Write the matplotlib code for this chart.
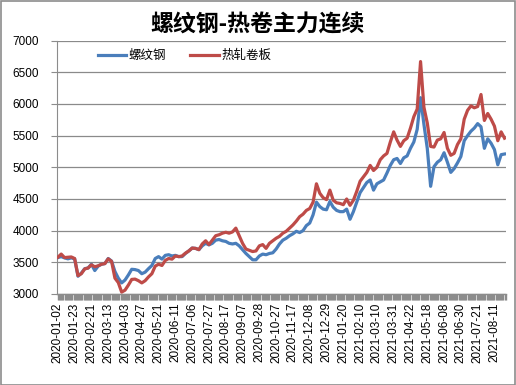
import numpy as np
import pandas as pd
import matplotlib
matplotlib.use("Agg")
import matplotlib.pyplot as plt
from matplotlib.patches import Rectangle

plt.rcParams['font.family'] = ['Liberation Sans', 'Noto Sans CJK SC', 'DejaVu Sans']

# ---- data ----
title = "螺纹钢-热卷主力连续"
series_names = ["螺纹钢", "热轧卷板"]
start_date, end_date = "2020-01-02", "2021-08-25"
holidays = [
    "2020-01-24", "2020-01-27", "2020-01-28", "2020-01-29", "2020-01-30", "2020-01-31",
    "2020-04-06", "2020-05-01", "2020-05-04", "2020-05-05", "2020-06-25", "2020-06-26",
    "2020-10-01", "2020-10-02", "2020-10-05", "2020-10-06", "2020-10-07", "2020-10-08",
    "2021-01-01", "2021-02-11", "2021-02-12", "2021-02-15", "2021-02-16", "2021-02-17",
    "2021-04-05", "2021-05-03", "2021-05-04", "2021-05-05", "2021-06-14",
]
sample_step = 3  # values read every 3rd trading day

rebar = [
    3575, 3590, 3570, 3555, 3570, 3555, 3280, 3330, 3400, 3410,
    3470, 3370, 3440, 3470, 3480, 3560, 3520, 3355, 3250, 3175,
    3220, 3300, 3390, 3385, 3370, 3320, 3345, 3400, 3450, 3560,
    3590, 3550, 3610, 3620, 3600, 3610, 3590, 3590, 3640, 3680,
    3725, 3720, 3700, 3760, 3800, 3775, 3800, 3850, 3860, 3840,
    3830, 3800, 3790, 3800, 3760, 3700, 3640, 3590, 3540, 3540,
    3600, 3630, 3620, 3640, 3650, 3710, 3790, 3850, 3880, 3920,
    3950, 3990, 3970, 4000, 4080, 4120, 4250, 4450, 4380, 4340,
    4330, 4460, 4370, 4320, 4300, 4300, 4340, 4180, 4300, 4450,
    4600, 4680, 4760, 4800, 4640, 4740, 4770, 4800, 4910, 5030,
    5120, 5140, 5060, 5150, 5180, 5300, 5400, 5600, 6100, 5680,
    5300, 4700, 5010, 5080, 5120, 5230, 5080, 4920, 4980, 5070,
    5170, 5420, 5500, 5570, 5620, 5690, 5640, 5300, 5450, 5380,
    5280, 5040, 5200, 5210,
]
hrc = [
    3580, 3630, 3575, 3580, 3585, 3560, 3290, 3320, 3395, 3410,
    3460, 3430, 3445, 3470, 3480, 3555, 3515, 3250, 3180, 3030,
    3060, 3140, 3230, 3235, 3210, 3175, 3210, 3270, 3320, 3440,
    3470, 3450, 3530, 3560, 3550, 3600, 3590, 3600, 3645, 3680,
    3725, 3720, 3700, 3790, 3840, 3780, 3850, 3920, 3935, 3960,
    3975, 3960, 3980, 4040, 3920, 3800, 3710, 3690, 3670, 3680,
    3760, 3780, 3720, 3800, 3840, 3880, 3910, 3960, 3990, 4040,
    4090, 4150, 4220, 4260, 4320, 4350, 4450, 4740, 4590, 4520,
    4490, 4640, 4480, 4440, 4430, 4410, 4500, 4400, 4480, 4620,
    4780, 4850, 4920, 5030, 4950, 5000, 5120, 5180, 5220, 5400,
    5560, 5430, 5330, 5420, 5460, 5620, 5800, 5920, 6670, 5950,
    5700, 5330, 5320, 5430, 5450, 5550, 5300, 5190, 5220, 5360,
    5450, 5760, 5900, 5970, 5940, 5960, 6150, 5740, 5850, 5760,
    5650, 5420, 5560, 5460,
]
y_ticks = [3000, 3500, 4000, 4500, 5000, 5500, 6000, 6500, 7000]
label_every = 15

# ---- trading calendar ----
days = pd.bdate_range(start_date, end_date)
days = days[~days.isin(pd.to_datetime(holidays))]
n = len(days)
sample_idx = np.arange(0, n, sample_step)[:len(rebar)]

fig = plt.figure(figsize=(5.16, 3.85), dpi=100)
ax = fig.add_axes([0.111, 0.2364, 0.870, 0.658])

blue, red = "#4A7EBB", "#BE4B48"
ax.plot(sample_idx, rebar, color=blue, lw=2.3, label=series_names[0],
        solid_joinstyle='round', zorder=3)
ax.plot(sample_idx, hrc, color=red, lw=2.3, label=series_names[1],
        solid_joinstyle='round', zorder=3)

ax.set_xlim(-0.5, n - 0.5)
ax.set_ylim(y_ticks[0], y_ticks[-1])
ax.set_yticks(y_ticks)
ax.set_yticklabels([str(v) for v in y_ticks], fontsize=8.5)
ax.yaxis.grid(True, color="#8a8a8a", lw=0.9)
ax.set_axisbelow(True)

major = np.arange(0, n, label_every)
ax.set_xticks(major)
ax.set_xticklabels([d.strftime("%Y-%m-%d") for d in days[major]],
                   rotation=90, fontsize=8.5)
ax.set_xticks(np.arange(n), minor=True)
ax.tick_params(axis='x', which='both', length=4, width=1.0, color="#8c8c8c", pad=2)
ax.tick_params(axis='y', length=4, width=0.8, color="#8c8c8c", pad=9)

for s in ["top", "right"]:
    ax.spines[s].set_visible(False)
ax.spines["left"].set_color("#8c8c8c")
ax.spines["bottom"].set_color("#8c8c8c")
ax.spines["bottom"].set_linewidth(1.0)

leg = ax.legend(loc="upper left", bbox_to_anchor=(0.065, 1.01), ncol=2, frameon=False,
                handlelength=2.3, handletextpad=0.2, columnspacing=1.9,
                prop={'family': ['Noto Sans CJK SC'], 'size': 9})

fig.text(0.5, 0.935, title, ha="center", va="center", fontsize=16.5, fontweight="bold",
         family=['Noto Sans CJK SC'])

fig.patches.append(Rectangle((0.001, 0.001), 0.997, 0.997, transform=fig.transFigure,
                             fill=False, edgecolor="#8c8c8c", lw=1.2))

fig.savefig("out.png", dpi=100)
